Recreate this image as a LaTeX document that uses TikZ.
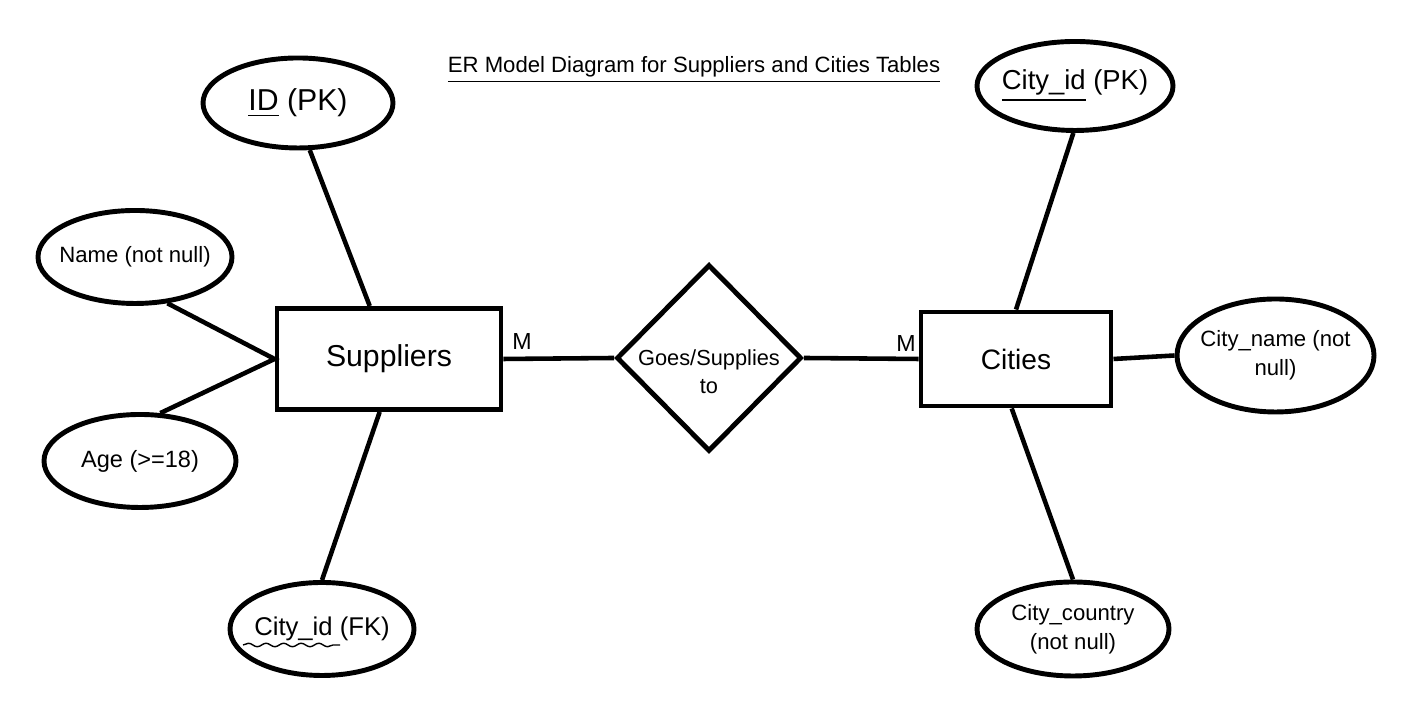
\documentclass[tikz,border=0pt]{standalone}
\usepackage{fontspec}
\setmainfont{Liberation Sans}
\usetikzlibrary{shapes.geometric,decorations.pathmorphing}
\tikzstyle{ent} = [rectangle, draw=black, line width=1.4pt, text centered, inner sep=0pt]
\tikzstyle{att} = [ellipse, draw=black, line width=1.4pt, inner xsep=-0.12cm, inner ysep=0pt, align=center, font=\fontsize{6.3}{8.2}\selectfont]
\tikzstyle{rel} = [diamond, draw=black, line width=1.4pt, inner sep=0pt]
\tikzstyle{ln} = [line width=1.3pt]

\begin{document}
\begin{tikzpicture}
		\useasboundingbox (0,0) rectangle (14.01,7.2);
		\node[font=\fontsize{6.3}{8}\selectfont](title) at (6.94,6.50){\underline{ER Model Diagram for Suppliers and Cities Tables}};
		
		\node[ent,minimum width=2.24cm,minimum height=1.01cm,font=\fontsize{8.6}{10}\selectfont](sup) at (3.89,3.61){Suppliers};
		\node[rel,minimum width=1.85cm,minimum height=1.87cm,label={[align=center,font=\fontsize{6.2}{8}\selectfont,yshift=-0.14cm]center:Goes/Supplies\\to}](gs) at (7.09,3.62){};
		\node[ent,minimum width=1.90cm,minimum height=0.94cm,font=\fontsize{8}{10}\selectfont](cit) at (10.16,3.61){Cities};
		
		\node[att,minimum width=1.90cm,minimum height=0.90cm,font=\fontsize{8.6}{10}\selectfont](id) at (2.98,6.17){\underline{ID} (PK)};
		\node[att,minimum width=1.94cm,minimum height=0.93cm](nm) at (1.35,4.63){Name (not null)};
		\node[att,minimum width=1.92cm,minimum height=0.93cm,font=\fontsize{6.7}{8}\selectfont](age) at (1.40,2.59){Age (>=18)};
		\node[att,minimum width=1.84cm,minimum height=0.93cm,font=\fontsize{7.3}{9}\selectfont](fk) at (3.22,0.91){City\_id (FK)};
		
		\node[att,minimum width=1.96cm,minimum height=0.89cm,font=\fontsize{7.8}{9}\selectfont](cid) at (10.75,6.34){\underline{City\_id} (PK)};
		\node[att,minimum width=1.97cm,minimum height=1.13cm](cnm) at (12.755,3.645){City\_name (not\\null)};
		\node[att,minimum width=1.92cm,minimum height=0.94cm](cco) at (10.73,0.91){City\_country\\(not null)};
		
		\node[font=\fontsize{6.6}{8}\selectfont](m1) at (5.22,3.78){M};
		\node[font=\fontsize{6.6}{8}\selectfont](m2) at (9.06,3.76){M};
		
		% connectors
		\draw[ln] (id.-76)--(sup.110.6);
		\draw[ln] (nm.-55)--(sup.west)--(age.67.7);
		\draw[ln] (fk.north)--(sup.-100);
		\draw[ln] (sup.east)--(gs.west);
		\draw[ln] (gs.east)--(cit.west);
		\draw[ln] (cid.-92)--(cit.north);
		\draw[ln] (cit.east)--(cnm.west);
		\draw[ln] (cit.-95)--(cco.north);
		
		% wavy mark under the foreign key
		\draw[line width=0.4pt,decorate,decoration={snake,amplitude=0.5pt,segment length=5pt}] (2.43,0.75)--(3.40,0.75);
		\end{tikzpicture}
\end{document}
